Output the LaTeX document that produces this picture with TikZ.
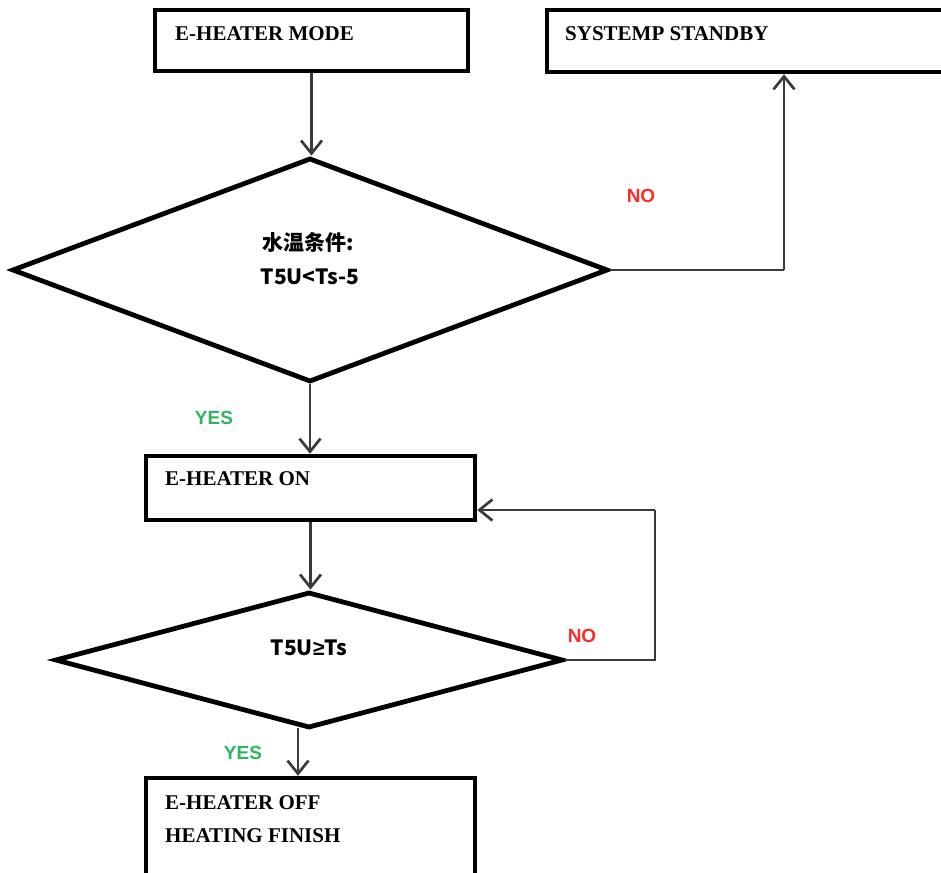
\documentclass[tikz,border=0pt]{standalone}
\usepackage{fontspec}
\setmainfont{Liberation Serif}
\newfontfamily\cjk{Noto Sans CJK SC}
\newfontfamily\lsans{Liberation Sans}
\usetikzlibrary{shapes.geometric,arrows.meta}
\definecolor{nored}{HTML}{FF2A2A}
\definecolor{yesgreen}{HTML}{2FB55E}
\definecolor{linegray}{HTML}{3A3A3A}
\begin{document}
\begin{tikzpicture}[x=1pt,y=-1pt,
  box/.style={draw=black, line width=4.5pt, fill=white, inner sep=0pt},
  dia/.style={diamond, draw=black, line width=4.8pt, inner sep=0pt},
  txt/.style={font=\bfseries\fontsize{21}{25}\selectfont, anchor=west, inner sep=0pt},
  ctxt/.style={font=\cjk\bfseries\fontsize{21}{25}\selectfont, inner sep=0pt},
  conn/.style={draw=linegray, line width=2.7pt, -{Straight Barb[length=13pt,width=21pt,line width=2.7pt]}},
  plainline/.style={draw=linegray, line width=2.7pt},
  nolab/.style={font=\lsans\bfseries\fontsize{19}{22}\selectfont, text=nored, inner sep=0pt},
  yeslab/.style={font=\lsans\bfseries\fontsize{19}{22}\selectfont, text=yesgreen, inner sep=0pt}]
\useasboundingbox (0,0) rectangle (941,872);
\fill[white] (0,0) rectangle (941,872);

% shapes
\node[box, minimum width=313pt, minimum height=61pt] (mode) at (311.5,40.5) {};
\node[box, minimum width=400pt, minimum height=62pt] (standby) at (747,41) {};
\node[dia, minimum width=596pt, minimum height=224pt] (d1) at (310,270) {};
\node[box, minimum width=329pt, minimum height=64pt] (on) at (310.5,488) {};
\node[dia, minimum width=508pt, minimum height=136pt] (d2) at (309,660) {};
\node[box, minimum width=329pt, minimum height=104pt] (off) at (310.5,830) {};

% texts
\node[txt] (tmode) at (175,34) {E-HEATER MODE};
\node[txt] (tstandby) at (565,34) {SYSTEMP STANDBY};
\node[ctxt] (q1a) at (308,243) {水温条件:};
\node[ctxt] (q1b) at (310,277) {T5U<Ts-5};
\node[ctxt] (q2) at (309,648) {T5U{\lsans ≥}Ts};
\node[txt] (ton) at (165,479) {E-HEATER ON};
\node[txt] (toff1) at (165,803) {E-HEATER OFF};
\node[txt] (toff2) at (165,836) {HEATING FINISH};
\node[nolab] (no1) at (641,196) {NO};
\node[nolab] (no2) at (582,636) {NO};
\node[yeslab] (yes1) at (214,418) {YES};
\node[yeslab] (yes2) at (243,753) {YES};

% connectors
\draw[conn] (mode.south) -- (mode.south |- d1.north);
\coordinate (c1) at (784,270);
\draw[plainline] (d1.east) -- (c1);
\draw[conn] (c1) -- (c1 |- standby.south);
\draw[conn] (d1.south) -- (d1.south |- on.north);
\draw[conn] (on.south) -- (on.south |- d2.north);
\coordinate (c2) at (655,660);
\coordinate (c3) at (655,510);
\draw[plainline] (d2.east) -- (c2) -- (c3);
\draw[conn] (c3) -- (c3 -| on.east);
\coordinate (c4) at (298,728);
\draw[conn] (c4) -- (c4 |- off.north);
\end{tikzpicture}
\end{document}
